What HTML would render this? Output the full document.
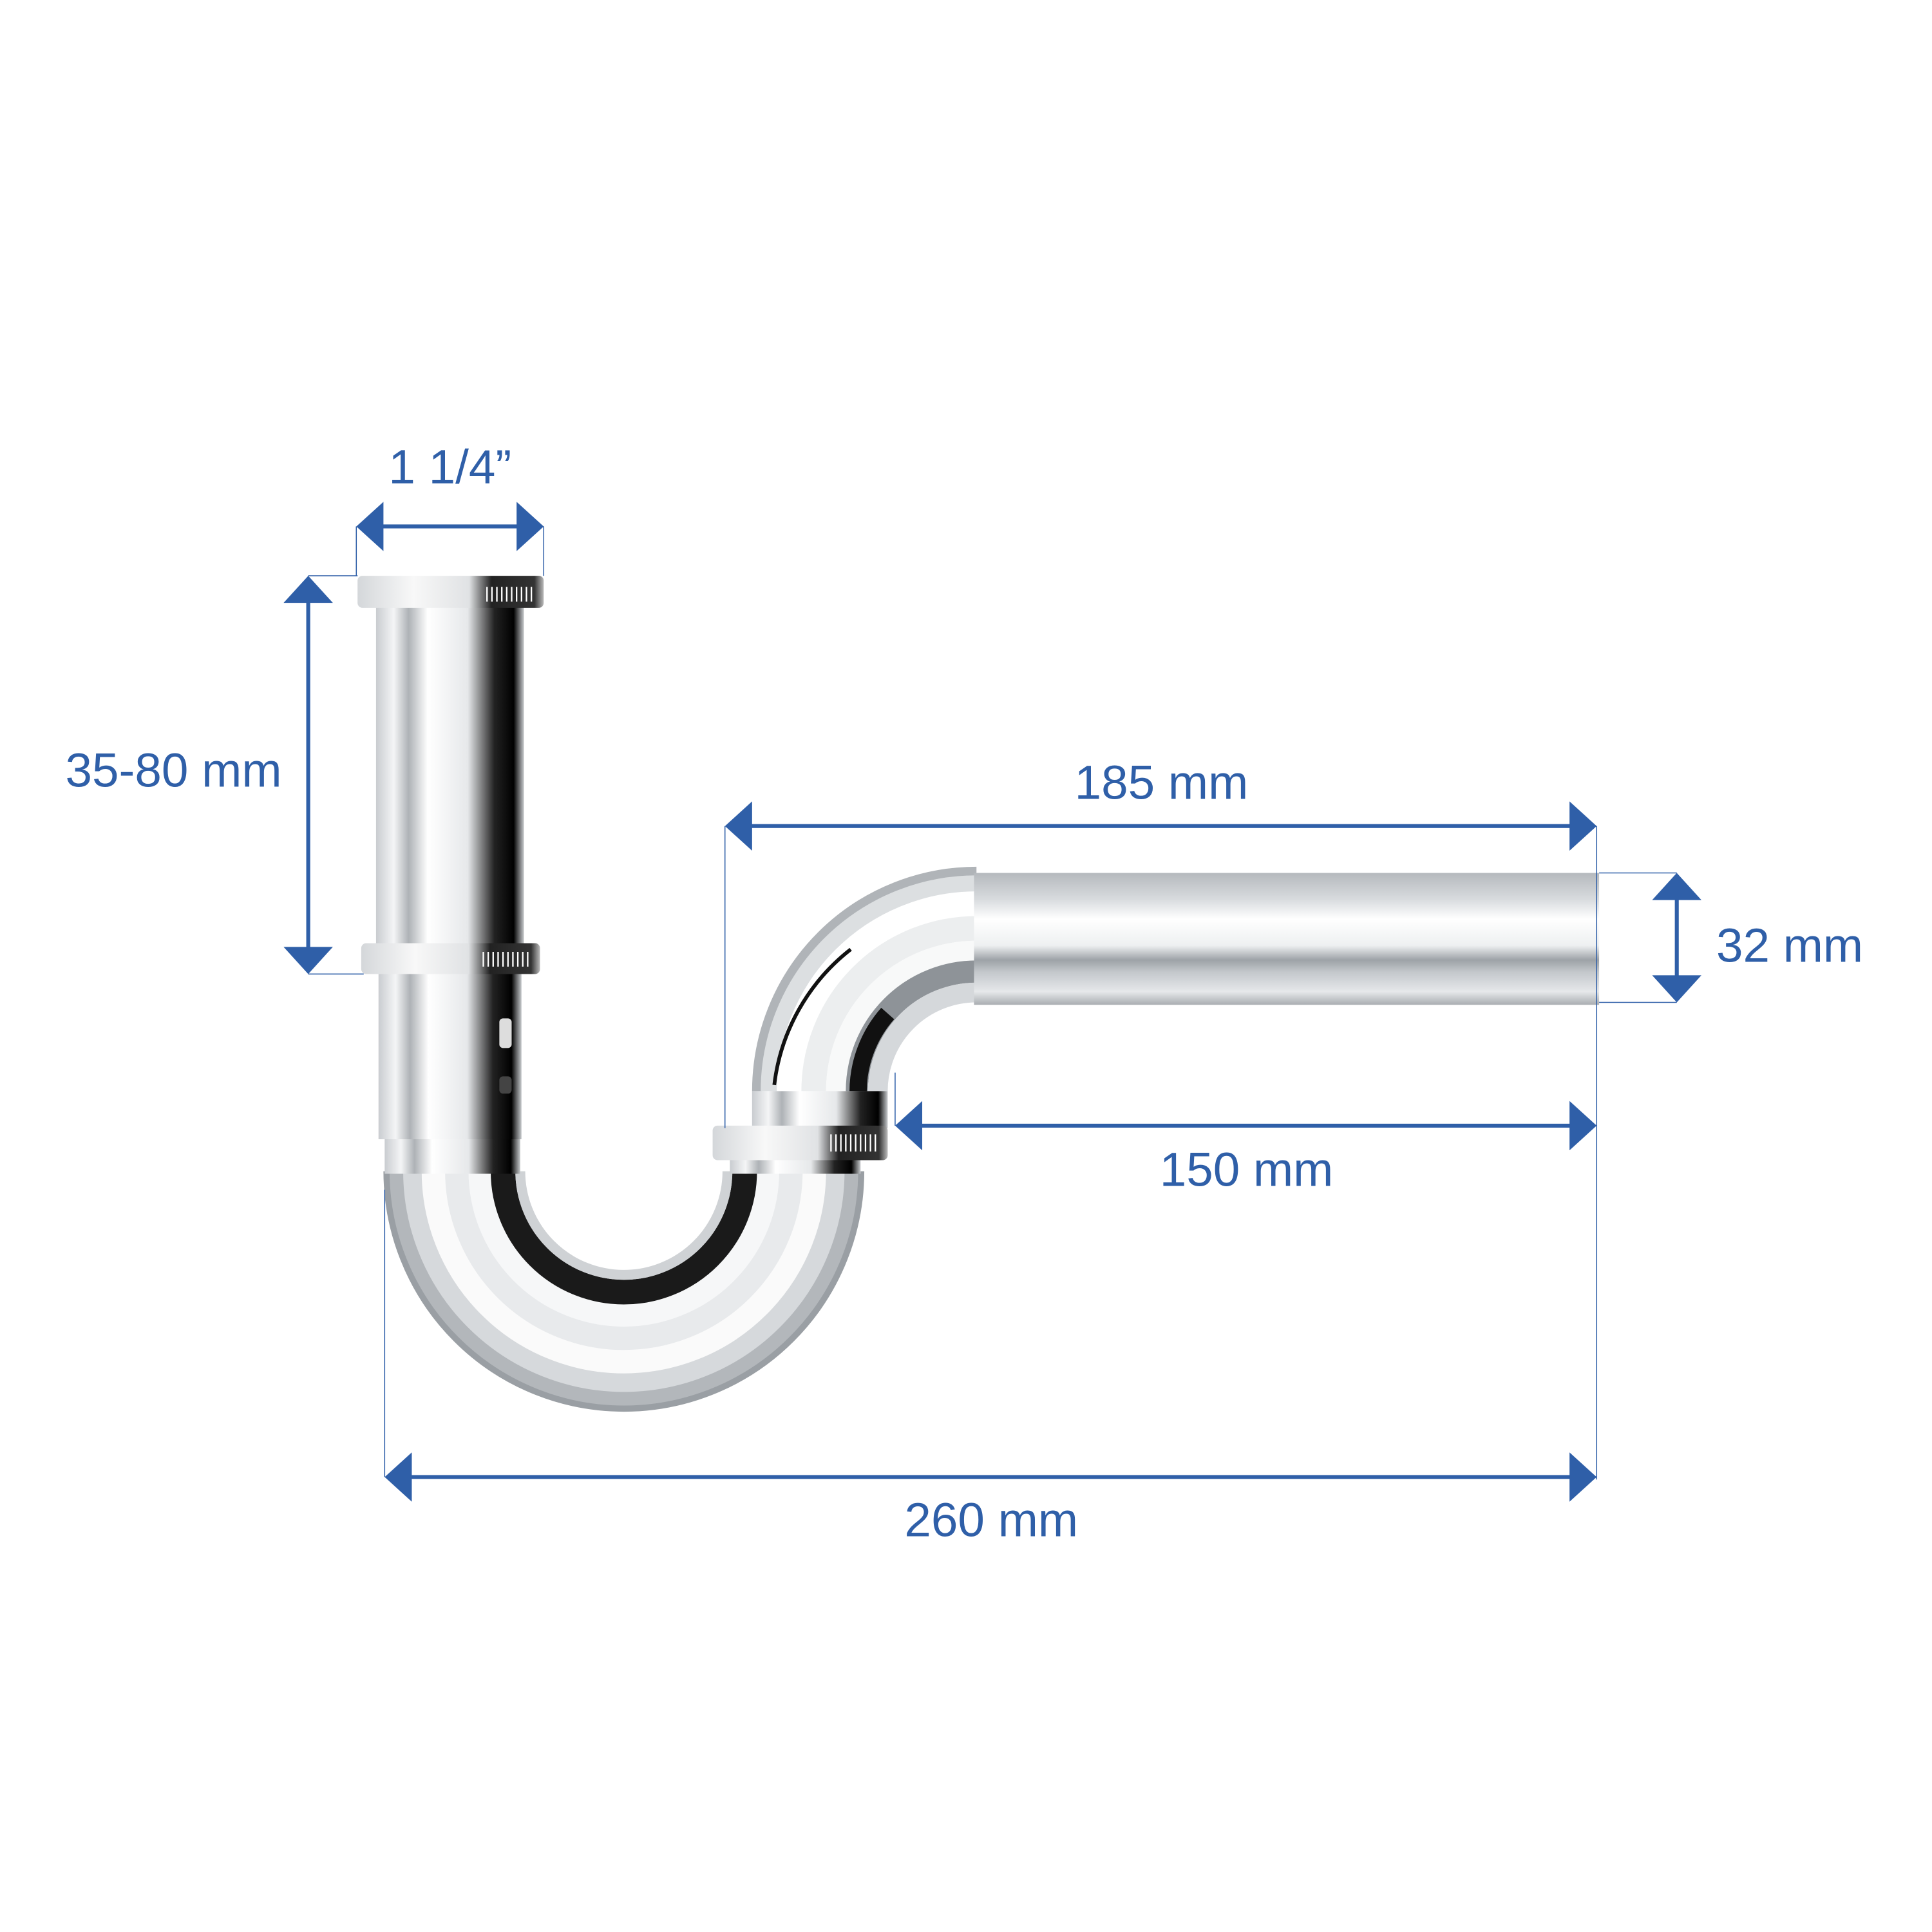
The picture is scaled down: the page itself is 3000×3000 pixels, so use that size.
<!DOCTYPE html>
<html><head><meta charset="utf-8"><style>
html,body{margin:0;padding:0;background:#fff;width:3000px;height:3000px;overflow:hidden}
svg{display:block}
text{font-family:"Liberation Sans",sans-serif;fill:#2f5fa8;font-size:39px}
</style></head><body>
<svg width="3000" height="3000" viewBox="0 0 1567 1567" xmlns="http://www.w3.org/2000/svg">
<defs>
<linearGradient id="vg" x1="0" x2="1" y1="0" y2="0">
<stop offset="0" stop-color="#c9ccd0"/><stop offset="0.12" stop-color="#f4f5f6"/>
<stop offset="0.22" stop-color="#aeb2b6"/><stop offset="0.35" stop-color="#ffffff"/>
<stop offset="0.62" stop-color="#e6e8ea"/><stop offset="0.8" stop-color="#222"/>
<stop offset="0.93" stop-color="#000"/><stop offset="1" stop-color="#c8cbce"/>
</linearGradient>
<linearGradient id="ng" x1="0" x2="1" y1="0" y2="0">
<stop offset="0" stop-color="#d4d7da"/><stop offset="0.3" stop-color="#f8f8f8"/>
<stop offset="0.6" stop-color="#e0e2e4"/><stop offset="0.72" stop-color="#222"/>
<stop offset="0.95" stop-color="#333"/><stop offset="1" stop-color="#bbb"/>
</linearGradient>
<linearGradient id="hg" x1="0" x2="0" y1="0" y2="1">
<stop offset="0" stop-color="#b5b9bd"/><stop offset="0.2" stop-color="#d8dbde"/>
<stop offset="0.35" stop-color="#ffffff"/><stop offset="0.55" stop-color="#eef0f1"/>
<stop offset="0.66" stop-color="#9da2a7"/><stop offset="0.75" stop-color="#c3c7cb"/>
<stop offset="0.9" stop-color="#e6e8ea"/><stop offset="1" stop-color="#a9adb1"/>
</linearGradient>
</defs>

<g fill="none">
<path d="M315 950 A191 191 0 0 0 697 950" stroke="#9a9fa4" stroke-width="8"/>
<path d="M322 950 A184 184 0 0 0 690 950" stroke="#b3b7bb" stroke-width="12"/>
<path d="M335 950 A171 171 0 0 0 677 950" stroke="#d6d9dc" stroke-width="16"/>
<path d="M352 950 A154 154 0 0 0 660 950" stroke="#fafafa" stroke-width="20"/>
<path d="M371 950 A135 135 0 0 0 641 950" stroke="#e8eaec" stroke-width="20"/>
<path d="M389 950 A117 117 0 0 0 623 950" stroke="#f6f7f8" stroke-width="18"/>
<path d="M408 950 A98 98 0 0 0 604 950" stroke="#1a1a1a" stroke-width="20"/>
<path d="M422 950 A84 84 0 0 0 590 950" stroke="#cfd2d5" stroke-width="8"/>
</g>
<rect x="312" y="922" width="110" height="30" fill="url(#vg)"/>
<rect x="592" y="940" width="106" height="12" fill="url(#vg)"/>

<rect x="305" y="490" width="120" height="278" fill="url(#vg)"/>
<rect x="307" y="788" width="116" height="136" fill="url(#vg)"/>
<rect x="405" y="826" width="10" height="24" rx="3" fill="#ddd"/>
<rect x="405" y="873" width="10" height="14" rx="3" fill="#444"/>
<rect x="290" y="467" width="151" height="26" rx="4" fill="url(#ng)"/>
<g stroke="#fff" stroke-width="1.2">
<path d="M395 476v12M399 476v12M403 476v12M407 476v12M411 476v12M415 476v12M419 476v12M423 476v12M427 476v12M431 476v12"/>
</g>
<rect x="293" y="765" width="145" height="25" rx="4" fill="url(#ng)"/>
<g stroke="#fff" stroke-width="1.2">
<path d="M392 772v12M396 772v12M400 772v12M404 772v12M408 772v12M412 772v12M416 772v12M420 772v12M424 772v12M428 772v12"/>
</g>

<g fill="none">
<path d="M614 885 A178 178 0 0 1 792 707" stroke="#b0b4b8" stroke-width="8"/>
<path d="M624 885 A168 168 0 0 1 792 717" stroke="#dcdfe1" stroke-width="14"/>
<path d="M640 885 A152 152 0 0 1 792 733" stroke="#ffffff" stroke-width="20"/>
<path d="M660 885 A132 132 0 0 1 792 753" stroke="#eceeef" stroke-width="20"/>
<path d="M678 885 A114 114 0 0 1 792 771" stroke="#f8f9f9" stroke-width="16"/>
<path d="M695 885 A97 97 0 0 1 792 788" stroke="#8e9398" stroke-width="18"/>
<path d="M712 885 A80 80 0 0 1 792 805" stroke="#d5d8db" stroke-width="16"/>
<path d="M696 885 A96 96 0 0 1 720 822" stroke="#111" stroke-width="14"/>
<path d="M628 880 A164 164 0 0 1 690 770" stroke="#111" stroke-width="3"/>
</g>
<rect x="610" y="885" width="110" height="30" fill="url(#vg)"/>
<rect x="790" y="708" width="507" height="107" fill="url(#hg)"/>
<rect x="578" y="913" width="142" height="28" rx="4" fill="url(#ng)"/>
<g stroke="#fff" stroke-width="1.2">
<path d="M674 920v14M678 920v14M682 920v14M686 920v14M690 920v14M694 920v14M698 920v14M702 920v14M706 920v14M710 920v14"/>
</g>

<g stroke="#2f5fa8" stroke-width="0.8" fill="none">
<path d="M289 427V467M441 427V467"/>
<path d="M250 467H290M250 790H295"/>
<path d="M588 670V915M1295 670V1200"/>
<path d="M1297 708H1360M1297 813H1360"/>
<path d="M726 870V913"/>
<path d="M312 965V1198"/>
</g>
<g stroke="#2f5fa8" stroke-width="3.2">
<path d="M300 427H430"/>
<path d="M250 480V777"/>
<path d="M600 670H1283"/>
<path d="M1360 720V801"/>
<path d="M738 913H1283"/>
<path d="M324 1198H1283"/>
</g>
<g fill="#2f5fa8">
<path d="M289 427l22-20v40z"/><path d="M441 427l-22-20v40z"/>
<path d="M250 467l-20 22h40z"/><path d="M250 790l-20-22h40z"/>
<path d="M588 670l22-20v40z"/><path d="M1295 670l-22-20v40z"/>
<path d="M1360 708l-20 22h40z"/><path d="M1360 813l-20-22h40z"/>
<path d="M726 913l22-20v40z"/><path d="M1295 913l-22-20v40z"/>
<path d="M312 1198l22-20v40z"/><path d="M1295 1198l-22-20v40z"/>
</g>
<text x="365" y="392" text-anchor="middle">1 1/4”</text>
<text x="53" y="638">35-80 mm</text>
<text x="942" y="648" text-anchor="middle">185 mm</text>
<text x="1392" y="780">32 mm</text>
<text x="1011" y="962" text-anchor="middle">150 mm</text>
<text x="804" y="1246" text-anchor="middle">260 mm</text>
</svg>
</body></html>
